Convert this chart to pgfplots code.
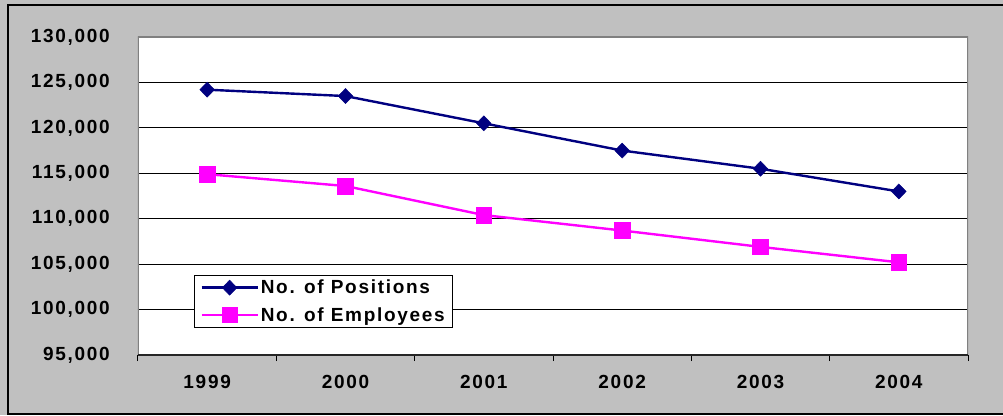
\documentclass[border=0pt]{standalone}
\usepackage{fontspec}
\usepackage{pgfplots}
\pgfplotsset{compat=1.18}
\newfontfamily\arl[LetterSpace=9]{Liberation Sans}
\definecolor{bgray}{HTML}{C0C0C0}
\definecolor{bordgray}{HTML}{808080}
\definecolor{posblue}{HTML}{000080}
\definecolor{empmag}{HTML}{FF00FF}
\newcommand{\lblfont}{\arl\bfseries\fontsize{19}{22}\selectfont}

\begin{document}
\begin{tikzpicture}
  \useasboundingbox (-138pt,-60pt) rectangle (865pt,355pt);
  \fill[bgray] (-138pt,-60pt) rectangle (865pt,355pt);
  \draw[black, line width=1.2pt] (-130pt,-59pt) rectangle (880pt,350pt);
  \begin{axis}[
    scale only axis,
    width=830pt, height=318pt,
    axis background/.style={fill=white},
    axis line style={draw=none},
    xmin=-0.5, xmax=5.5,
    ymin=95000, ymax=130000,
    scaled y ticks=false,
    xtick={0,...,5},
    xticklabels={1999,2000,2001,2002,2003,2004},
    minor xtick={-0.5,0.5,...,5.5},
    ytick={95000,100000,105000,110000,115000,120000,125000,130000},
    yticklabels={{95,000},{100,000},{105,000},{110,000},{115,000},{120,000},{125,000},{130,000}},
    major tick length=0pt,
    minor tick length=6pt,
    tick align=outside,
    tick pos=left,
    minor x tick style={black, line width=1pt},
    ymajorgrids,
    grid style={black, line width=0.9pt},
    tick label style={font=\lblfont},
    xticklabel style={inner sep=0pt, anchor=center, yshift=-27pt},
    yticklabel style={inner sep=0pt, anchor=east, xshift=-28pt},
    legend style={
      at={(0.0675,0.085)}, anchor=south west,
      draw=black, fill=white, line width=0.8pt,
      font=\lblfont,
      inner xsep=6pt, inner ysep=3pt,
      row sep=8pt,
      legend cell align=left,
    },
    legend image code/.code={
      \draw[#1, mark repeat=2, mark phase=2]
        plot coordinates {(0pt,0pt) (28pt,0pt) (56pt,0pt)};
    },
  ]
  \addplot[color=posblue, line width=2.4pt, mark=diamond*,
           mark size=7.5pt, mark options={solid, xscale=1.3, line width=0.5pt}]
    coordinates {
      (0,124200) (1,123500) (2,120500) (3,117500) (4,115500) (5,113000)
    };
  \addlegendentry{No. of Positions}
  \addplot[color=empmag, line width=2.4pt, mark=square*,
           mark size=7.8pt, mark options={solid, line width=0.5pt}]
    coordinates {
      (0,114900) (1,113600) (2,110400) (3,108700) (4,106900) (5,105200)
    };
  \addlegendentry{No. of Employees}
  \draw[bordgray, line width=1.8pt]
    (rel axis cs:0,0) -- (rel axis cs:0,1) -- (rel axis cs:1,1) -- (rel axis cs:1,0);
  \draw[black!85, line width=1.2pt] (rel axis cs:0,0) -- (rel axis cs:1,0);
  \end{axis}
\end{tikzpicture}
\end{document}
